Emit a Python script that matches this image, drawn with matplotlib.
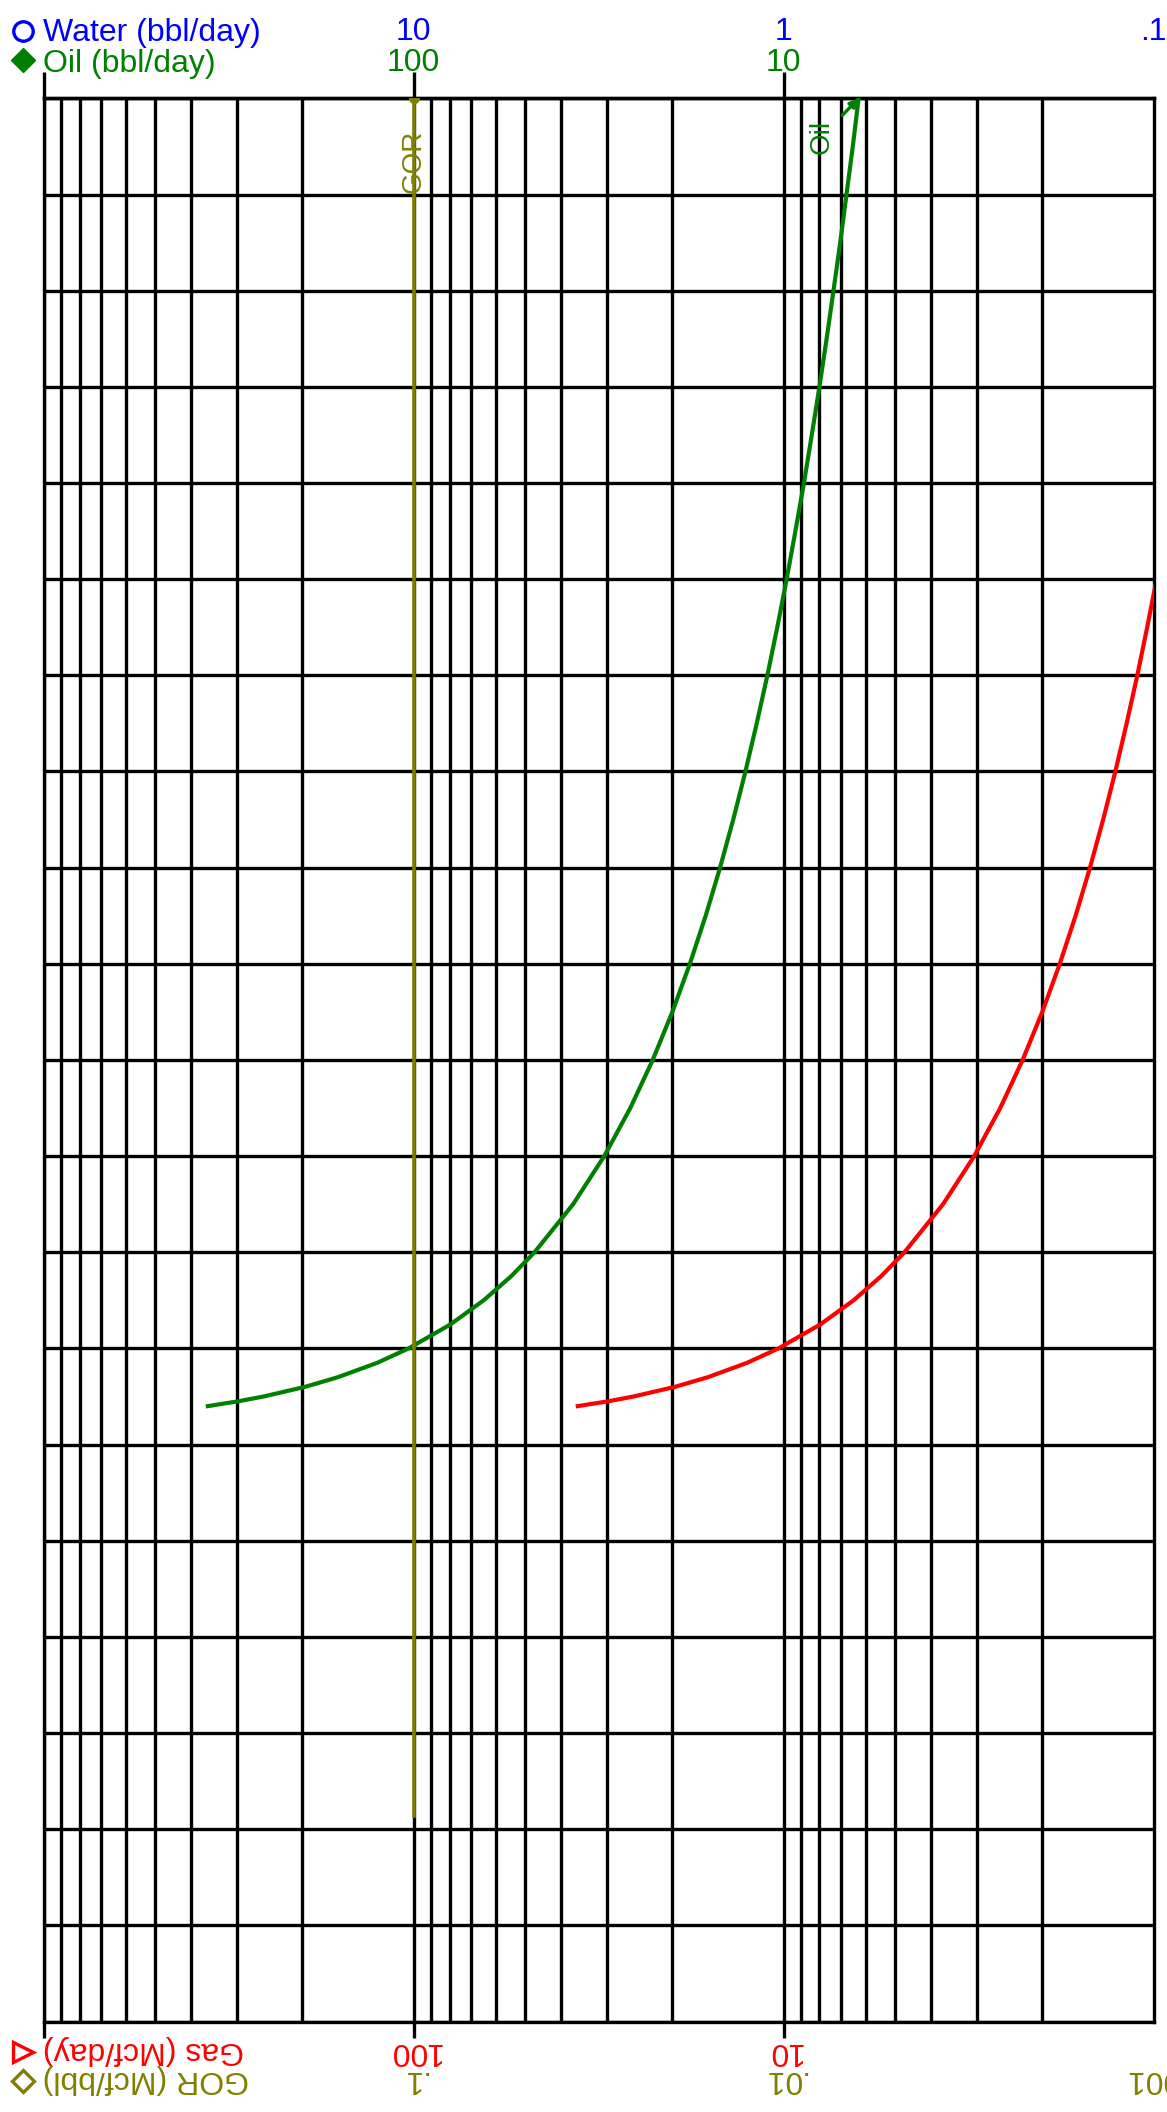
import numpy as np
import matplotlib.pyplot as plt
from matplotlib.lines import Line2D
from matplotlib.ticker import FixedLocator, LogLocator, MultipleLocator, NullLocator, NullFormatter
import matplotlib.transforms as mtransforms

plt.rcParams['font.family'] = ['Liberation Sans', 'DejaVu Sans']

# --- Couleurs ---
BLUE = "#0000ff"
GREEN = "#008000"
RED = "#ff0000"
OLIVE = "#808000"

# --- Données (axe vertical : 0 en haut, 20 en bas) ---
t_oil = [0, 0.5, 1, 1.5, 2, 2.5, 3, 3.5, 4, 4.5, 5, 5.5, 6, 6.5, 7, 7.5, 8, 8.5, 9, 9.5,
         10, 10.5, 11, 11.5, 12, 12.25, 12.5, 12.75, 13, 13.15, 13.3, 13.4, 13.5, 13.55, 13.6]
q_oil = [6.27, 6.50, 6.76, 7.03, 7.33, 7.65, 8.00, 8.39, 8.81, 9.29, 9.81, 10.4, 11.06,
         11.82, 12.68, 13.68, 14.85, 16.24, 17.92, 19.98, 22.58, 25.96, 30.53, 37.06,
         47.12, 54.52, 64.69, 79.51, 103.2, 125.5, 160.4, 196.7, 254.4, 298.1, 360]  # bbl/day

t_gas = [5.0, 5.5, 6, 6.5, 7, 7.5, 8, 8.5, 9, 9.5, 10, 10.5, 11, 11.5, 12, 12.25, 12.5,
         12.75, 13, 13.15, 13.3, 13.4, 13.5, 13.55, 13.6]
q_gas = [0.981, 1.040, 1.106, 1.182, 1.268, 1.368, 1.485, 1.624, 1.792, 1.998, 2.258,
         2.596, 3.053, 3.706, 4.712, 5.452, 6.469, 7.951, 10.32, 12.55, 16.04, 19.67,
         25.44, 29.81, 36.0]                                             # Mcf/day

t_gor = [0, 17.86]
gor = [0.1, 0.1]                                                         # Mcf/bbl

# échelles secondaires rapportées à l'axe Oil (1000 -> 1)
GOR_FACTOR = 1000.0     # oil = 1000 * GOR

decades = [1000, 100, 10]
water_tick_pos = [100, 10, 1]
water_tick_lab = ["10", "1", ".1"]
oil_tick_pos = [100, 10]
oil_tick_lab = ["100", "10"]
gas_tick_pos = [100, 10]
gas_tick_lab = ["100", "10"]
gor_tick_pos = [100, 10, 1]
gor_tick_lab = [".1", ".01", ".001"]

# --- Figure ---
W, H = 1167, 2112
fig = plt.figure(figsize=(W / 100, H / 100), dpi=100)
ax = fig.add_axes([43.75 / W, 1 - 2021.5 / H, 1109.75 / W, 1923.1 / H])

LW = 2.4
ax.set_xscale("log")
ax.set_xlim(1000, 1)
ax.set_ylim(20, 0)

ax.xaxis.set_major_locator(FixedLocator(decades))
ax.xaxis.set_minor_locator(LogLocator(base=10, subs=range(2, 10)))
ax.xaxis.set_major_formatter(NullFormatter())
ax.xaxis.set_minor_formatter(NullFormatter())
ax.yaxis.set_major_locator(MultipleLocator(1))
ax.yaxis.set_major_formatter(NullFormatter())
ax.grid(True, which="both", color="black", linewidth=LW)
ax.tick_params(axis="x", which="major", direction="out", length=11.5, width=LW,
               bottom=True, top=False, labelbottom=False)
ax.tick_params(axis="x", which="minor", length=0)
ax.tick_params(axis="y", which="both", length=0, labelleft=False)
for s in ax.spines.values():
    s.set_linewidth(LW)

sec = ax.secondary_xaxis("top")
sec.xaxis.set_major_locator(FixedLocator(decades))
sec.xaxis.set_minor_locator(NullLocator())
sec.tick_params(axis="x", which="major", direction="out", length=18.7, width=LW, labeltop=False)
sec.spines["top"].set_linewidth(LW)

# --- Courbes ---
ax.plot(q_oil, t_oil, color=GREEN, linewidth=3.0, zorder=3)
ax.plot(q_gas, t_gas, color=RED, linewidth=3.0, zorder=3)
ax.plot(np.array(gor) * GOR_FACTOR, t_gor, color=OLIVE, linewidth=2.6, zorder=3,
        marker="o", markersize=7, markevery=[0])

ax.text(gor[0] * GOR_FACTOR, 0.656, "GOR", rotation=90, ha="center", va="center",
        color=OLIVE, fontsize=20, zorder=4)
ax.annotate("Oil", xy=(q_oil[0], t_oil[0]), xytext=(7.89, 0.40), rotation=90,
            ha="center", va="center", color=GREEN, fontsize=20,
            arrowprops=dict(arrowstyle="-|>", color=GREEN, lw=2.4, shrinkA=5, shrinkB=0,
                            mutation_scale=12))

# --- Légendes et graduations ---
FS = 23
trans = mtransforms.blended_transform_factory(ax.transData, fig.transFigure)

def fy(y):
    return 1 - y / H

fig.text(43 / W, fy(41), "Water (bbl/day)", color=BLUE, fontsize=FS, ha="left", va="baseline")
fig.text(43 / W, fy(72), "Oil (bbl/day)", color=GREEN, fontsize=FS, ha="left", va="baseline")
for pos, lab in zip(water_tick_pos, water_tick_lab):
    ax.text(pos, fy(40.5), lab, transform=trans, color=BLUE, fontsize=FS, ha="center", va="baseline")
for pos, lab in zip(oil_tick_pos, oil_tick_lab):
    ax.text(pos, fy(71), lab, transform=trans, color=GREEN, fontsize=FS, ha="center", va="baseline")

fig.text(43 / W, fy(2050), "Gas (Mcf/day)", color=RED, fontsize=FS, rotation=180,
         ha="left", va="center")
fig.text(43 / W, fy(2079), "GOR (Mcf/bbl)", color=OLIVE, fontsize=FS, rotation=180,
         ha="left", va="center")
for pos, lab in zip(gas_tick_pos, gas_tick_lab):
    ax.text(pos, fy(2051), lab, transform=trans, color=RED, fontsize=FS, rotation=180,
            ha="center", va="center")
for pos, lab in zip(gor_tick_pos, gor_tick_lab):
    ax.text(pos, fy(2079), lab, transform=trans, color=OLIVE, fontsize=FS, rotation=180,
            ha="center", va="center")

# symboles de légende
fig.add_artist(Line2D([23.3 / W], [fy(31)], marker="o", mfc="none", mec=BLUE, ms=14, mew=2.4,
                      transform=fig.transFigure))
fig.add_artist(Line2D([23.3 / W], [fy(60)], marker="D", color=GREEN, ms=12,
                      transform=fig.transFigure))
fig.add_artist(Line2D([22.5 / W], [fy(2052)], marker=">", mfc="none", mec=RED, ms=14, mew=2.4,
                      transform=fig.transFigure))
fig.add_artist(Line2D([22.5 / W], [fy(2081)], marker="D", mfc="none", mec=OLIVE, ms=11, mew=2.4,
                      transform=fig.transFigure))

fig.savefig("out.png", dpi=100)
